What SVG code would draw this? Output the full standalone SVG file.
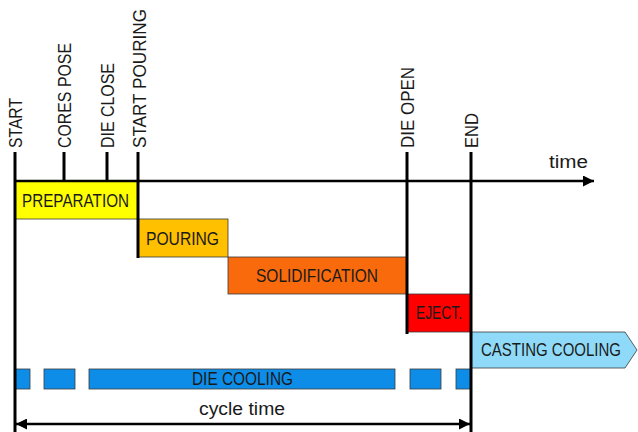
<svg xmlns="http://www.w3.org/2000/svg" width="638" height="432" viewBox="0 0 638 432">
<style>
text{font-family:"Liberation Sans",Arial,sans-serif;font-size:18px;fill:#1a1a1a}
.box{stroke:#3a3a3a;stroke-width:0.8}
.ln{stroke:#000;stroke-width:3;fill:none}
.ax{stroke:#000;stroke-width:2.5;fill:none}
</style>
<defs>
<marker id="ah" viewBox="0 0 10 10" refX="10" refY="5" markerWidth="4.4" markerHeight="4.4" markerUnits="strokeWidth" orient="auto-start-reverse">
<path d="M0,0 L10,5 L0,10 z" fill="#000"/>
</marker>
</defs>
<rect width="638" height="432" fill="#fff"/>

<g id="preparation"><rect class="box" x="15" y="181" width="123" height="38" fill="#FFFF00"/><text x="22" y="207" textLength="107" lengthAdjust="spacingAndGlyphs">PREPARATION</text></g>
<g id="pouring"><rect class="box" x="138" y="219" width="90" height="38" fill="#FFC000"/><text x="146" y="245" textLength="73" lengthAdjust="spacingAndGlyphs">POURING</text></g>
<g id="solidification"><rect class="box" x="228" y="257" width="179" height="37" fill="#F86A0C"/><text x="256" y="282" textLength="122" lengthAdjust="spacingAndGlyphs">SOLIDIFICATION</text></g>
<g id="eject"><rect class="box" x="407" y="294" width="64" height="38" fill="#FF0000"/><text x="416" y="319" textLength="46" lengthAdjust="spacingAndGlyphs">EJECT.</text></g>
<g id="casting-cooling"><polygon class="box" points="471,332 625,332 637,350 625,368 471,368" fill="#8FDAF8"/><text x="481" y="356" textLength="140" lengthAdjust="spacingAndGlyphs">CASTING COOLING</text></g>
<g id="die-cooling">
<rect class="box" x="15" y="369" width="15" height="20" fill="#0E8DE8"/>
<rect class="box" x="44" y="369" width="31" height="20" fill="#0E8DE8"/>
<rect class="box" x="89" y="369" width="306" height="20" fill="#0E8DE8"/>
<rect class="box" x="410" y="369" width="31" height="20" fill="#0E8DE8"/>
<rect class="box" x="456" y="369" width="15" height="20" fill="#0E8DE8"/>
<text x="192" y="385" textLength="101" lengthAdjust="spacingAndGlyphs">DIE COOLING</text>
</g>

<g id="connectors">
<line class="ax" x1="15" y1="181" x2="594" y2="181" marker-end="url(#ah)"/>
<line class="ax" x1="16" y1="424" x2="470" y2="424" marker-start="url(#ah)" marker-end="url(#ah)"/>
<line class="ln" x1="15" y1="152" x2="15" y2="432"/>
<line class="ln" x1="64" y1="152" x2="64" y2="181"/>
<line class="ln" x1="107" y1="152" x2="107" y2="181"/>
<line class="ln" x1="138" y1="152" x2="138" y2="258"/>
<line class="ln" x1="407" y1="152" x2="407" y2="334"/>
<line class="ln" x1="471" y1="152" x2="471" y2="432"/>
</g>

<g id="start"><text transform="translate(22,148) rotate(-90)" textLength="50" lengthAdjust="spacingAndGlyphs">START</text></g>
<g id="cores-pose"><text transform="translate(71,148) rotate(-90)" textLength="105" lengthAdjust="spacingAndGlyphs">CORES POSE</text></g>
<g id="die-close"><text transform="translate(114,148) rotate(-90)" textLength="85" lengthAdjust="spacingAndGlyphs">DIE CLOSE</text></g>
<g id="start-pouring"><text transform="translate(146,148) rotate(-90)" textLength="139" lengthAdjust="spacingAndGlyphs">START POURING</text></g>
<g id="die-open"><text transform="translate(414,148) rotate(-90)" textLength="81" lengthAdjust="spacingAndGlyphs">DIE OPEN</text></g>
<g id="end"><text transform="translate(478,148) rotate(-90)" textLength="35" lengthAdjust="spacingAndGlyphs">END</text></g>
<g id="time"><text x="549" y="168" textLength="39" lengthAdjust="spacingAndGlyphs">time</text></g>
<g id="cycle-time"><text x="199" y="415" textLength="86" lengthAdjust="spacingAndGlyphs">cycle time</text></g>
</svg>
